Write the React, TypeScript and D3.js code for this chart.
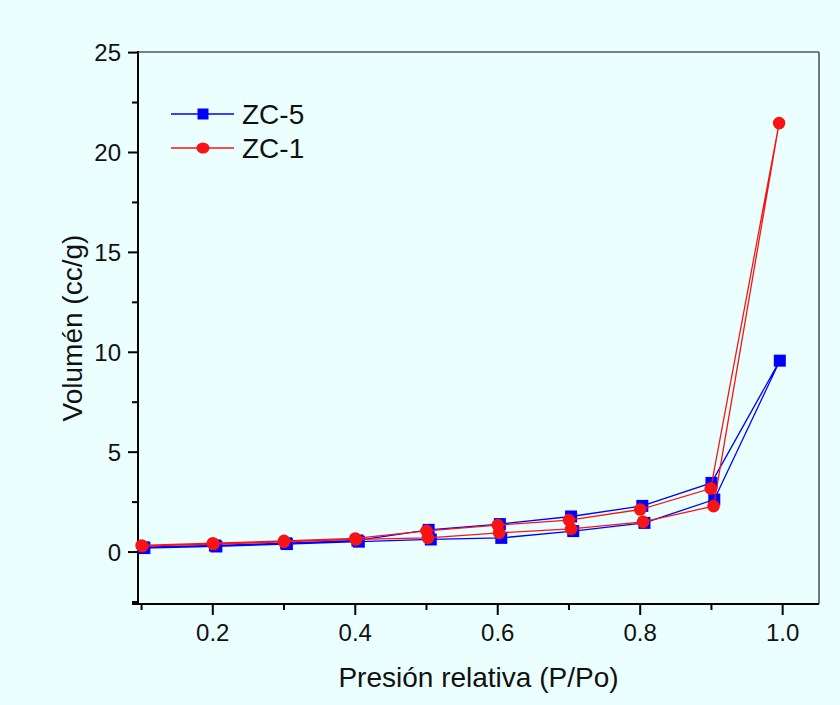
import React from "react";
import * as d3 from "d3";

// Isotherm data: adsorption branch (0.1 → 1.0) followed by desorption branch (0.9 → 0.1)
const zc5Pressure = [0.104, 0.205, 0.304, 0.405, 0.506, 0.605, 0.706, 0.806, 0.904, 0.996,
  0.900, 0.803, 0.703, 0.603, 0.503, 0.403, 0.303, 0.203, 0.103];
const zc5Volume = [0.20, 0.28, 0.40, 0.52, 0.63, 0.71, 1.05, 1.46, 2.63, 9.58,
  3.46, 2.31, 1.78, 1.40, 1.11, 0.58, 0.44, 0.33, 0.24];

const zc1Pressure = [0.101, 0.201, 0.300, 0.401, 0.502, 0.602, 0.703, 0.804, 0.903, 0.995,
  0.899, 0.800, 0.700, 0.600, 0.500, 0.400, 0.300, 0.200, 0.100];
const zc1Volume = [0.30, 0.40, 0.51, 0.63, 0.71, 0.96, 1.16, 1.51, 2.30, 21.47,
  3.18, 2.13, 1.60, 1.35, 1.06, 0.68, 0.56, 0.44, 0.33];

const seriesNames = ["ZC-5", "ZC-1"];
const xMajorTicks = [0.2, 0.4, 0.6, 0.8, 1.0];
const xMinorTicks = [0.1, 0.3, 0.5, 0.7, 0.9];
const yMajorTicks = [0, 5, 10, 15, 20, 25];
const yMinorTicks = [-2.5, 2.5, 7.5, 12.5, 17.5, 22.5];

const W = 840;
const H = 705;
const L = 138, R = 819, T = 52, B = 604;
const FONT = "'Liberation Sans', Arial, sans-serif";
const BLUE = "#0000ff";
const RED = "#f81414";

export default function App() {
  const x = d3.scaleLinear().domain([0.095, 1.051]).range([L, R]);
  const y = d3.scaleLinear().domain([-2.6, 25.03]).range([B, T]);

  const zc5 = zc5Pressure.map((p, i) => [p, zc5Volume[i]] as [number, number]);
  const zc1 = zc1Pressure.map((p, i) => [p, zc1Volume[i]] as [number, number]);

  const line = d3.line<[number, number]>().x((d) => x(d[0])).y((d) => y(d[1]));

  const sq = 12;

  return (
    <svg width={W} height={H} style={{ position: "absolute", left: 0, top: 0, display: "block" }}
      fontFamily={FONT}>
      <rect x={0} y={0} width={W} height={H} fill="#ebffff" />

      {/* frame: top and right */}
      <line x1={L} x2={R} y1={T} y2={T} stroke="#4e5a5a" strokeWidth={1.6} />
      <line x1={R} x2={R} y1={T} y2={B} stroke="#4e5a5a" strokeWidth={1.6} />

      {/* y axis */}
      {yMajorTicks.map((t) => (
        <g key={"ym" + t}>
          <line x1={L - 10} x2={L} y1={y(t)} y2={y(t)} stroke="#000" strokeWidth={2} />
          <text x={L - 17} y={y(t)} dy="0.36em" textAnchor="end" fontSize={24} fill="#111">{t}</text>
        </g>
      ))}
      {yMinorTicks.map((t) => (
        <line key={"yn" + t} x1={L - 6} x2={L} y1={y(t)} y2={y(t)} stroke="#000" strokeWidth={2} />
      ))}

      {/* x axis */}
      {xMajorTicks.map((t) => (
        <g key={"xm" + t}>
          <line x1={x(t)} x2={x(t)} y1={B} y2={B + 11} stroke="#000" strokeWidth={2} />
          <text x={x(t)} y={B + 37} textAnchor="middle" fontSize={24} fill="#111">{t.toFixed(1)}</text>
        </g>
      ))}
      {xMinorTicks.map((t) => (
        <line key={"xn" + t} x1={x(t)} x2={x(t)} y1={B} y2={B + 6} stroke="#000" strokeWidth={2} />
      ))}

      <line x1={L} x2={L} y1={T - 1} y2={B + 1} stroke="#000" strokeWidth={2} />
      <line x1={L - 6} x2={R} y1={B} y2={B} stroke="#000" strokeWidth={2} />

      {/* axis titles */}
      <text x={(L + R) / 2} y={687} textAnchor="middle" fontSize={28} fill="#111">Presión relativa (P/Po)</text>
      <text transform={`translate(82, ${(T + B) / 2}) rotate(-90)`} textAnchor="middle" fontSize={28} fill="#111">Volumén (cc/g)</text>

      {/* ZC-5 */}
      <path d={line(zc5) ?? ""} fill="none" stroke={BLUE} strokeWidth={1.3} />
      {zc5.map((d, i) => (
        <rect key={"b" + i} x={x(d[0]) - sq / 2} y={y(d[1]) - sq / 2} width={sq} height={sq} fill={BLUE} />
      ))}

      {/* ZC-1 */}
      <path d={line(zc1) ?? ""} fill="none" stroke={RED} strokeWidth={1.3} />
      {zc1.map((d, i) => (
        <circle key={"r" + i} cx={x(d[0])} cy={y(d[1])} r={6.3} fill={RED} />
      ))}

      {/* legend */}
      <g>
        <line x1={171} x2={234} y1={114} y2={114} stroke={BLUE} strokeWidth={1.3} />
        <rect x={203 - 5.5} y={114 - 5.5} width={11} height={11} fill={BLUE} />
        <text x={242} y={114} dy="0.36em" fontSize={28} fill="#111">{seriesNames[0]}</text>
        <line x1={171} x2={234} y1={148} y2={148} stroke={RED} strokeWidth={1.3} />
        <ellipse cx={203} cy={148} rx={6.5} ry={5.5} fill={RED} />
        <text x={242} y={148} dy="0.36em" fontSize={28} fill="#111">{seriesNames[1]}</text>
      </g>
    </svg>
  );
}
